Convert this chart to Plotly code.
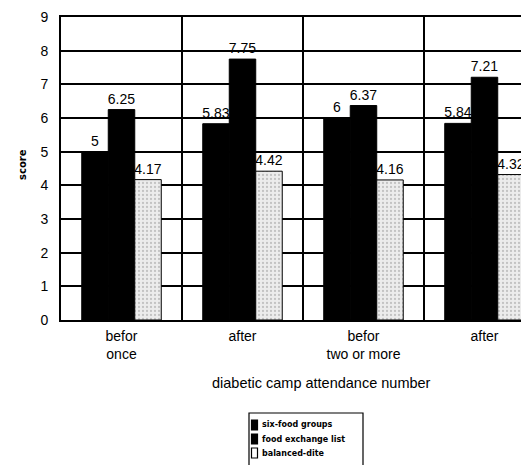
import plotly.graph_objects as go

categories = ["befor<br>once", "after", "befor<br>two or more", "after"]
six_food = [5, 5.83, 6, 5.84]
food_exchange = [6.25, 7.75, 6.37, 7.21]
balanced = [4.17, 4.42, 4.16, 4.32]
series_names = ["six-food groups", "food exchange list", "balanced-dite"]
y_ticks = list(range(0, 10))

W, H = 529, 465
L, R, T, B = 53, 0, 9, 153
PW, PH = W - L - R, H - T - B


def px(xp):
    return (xp - L) / PW


def py(yp):
    return (H - B - yp) / PH


x = list(range(len(categories)))
FONT = "Liberation Sans, Arial"
BALANCED_MARKER = dict(color="#e6e6e6", line=dict(color="black", width=1),
                       pattern=dict(shape=".", fgcolor="#9a9a9a", bgcolor="#ececec",
                                    size=4, solidity=0.25))

fig = go.Figure()
series = [six_food, food_exchange, balanced]
markers = [dict(color="black", line=dict(color="black", width=1)),
           dict(color="black", line=dict(color="black", width=1)),
           BALANCED_MARKER]
for name, vals, mk in zip(series_names, series, markers):
    fig.add_trace(go.Bar(x=x, y=vals, name=name, marker=mk,
                         text=[f"{v:g}" for v in vals], textposition="outside",
                         cliponaxis=False, showlegend=False,
                         textfont=dict(family=FONT, size=14, color="black")))

fig.update_layout(
    width=W, height=H,
    margin=dict(l=L, r=R, t=T, b=B),
    paper_bgcolor="white", plot_bgcolor="white",
    barmode="group", bargap=0.343, bargroupgap=0,
    font=dict(family=FONT, color="black"),
    uniformtext=dict(minsize=14, mode="show"),
    xaxis=dict(range=[-0.5, 3.434], tickvals=x, ticktext=categories,
               showgrid=False, zeroline=False, ticks="", automargin=False,
               ticklabelstandoff=2,
               tickfont=dict(family=FONT, size=14, color="black"),
               showline=True, linecolor="black", linewidth=2, mirror=True,
               minor=dict(tickvals=[0.5, 1.5, 2.5], showgrid=True,
                          gridcolor="black", gridwidth=2, ticks="")),
    yaxis=dict(range=[0, 9], tickvals=y_ticks, showgrid=True, gridcolor="black",
               gridwidth=1.6, zeroline=False, ticks="", automargin=False,
               ticklabelstandoff=8,
               tickfont=dict(family=FONT, size=14, color="black"),
               showline=True, linecolor="black", linewidth=2),
)

# axis titles
fig.add_annotation(text="diabetic camp attendance number", xref="paper", yref="paper",
                   x=px(313), y=py(375), xanchor="center", yanchor="middle",
                   showarrow=False, font=dict(family=FONT, size=14.5, color="black"))
fig.add_annotation(text="<b>score</b>", xref="paper", yref="paper",
                   x=px(14), y=py(157), xanchor="center", yanchor="middle",
                   textangle=-90, showarrow=False,
                   font=dict(family="DejaVu Sans", size=10, color="black"))

# legend box
fig.add_shape(type="rect", xref="paper", yref="paper",
              x0=px(241), x1=px(355), y0=py(468), y1=py(405),
              line=dict(color="black", width=1.2), fillcolor="white", layer="above")
legend_y = [417, 431, 445]
for i, (name, ly) in enumerate(zip(series_names, legend_y)):
    if i < 2:
        fc, lc = "black", "black"
    else:
        fc, lc = "white", "black"
    fig.add_shape(type="rect", xref="paper", yref="paper",
                  x0=px(243.5), x1=px(249.5), y0=py(ly + 5), y1=py(ly - 5),
                  line=dict(color=lc, width=1.2), fillcolor=fc, layer="above")
    fig.add_annotation(text=f"<b>{name}</b>", xref="paper", yref="paper",
                       x=px(252), y=py(ly), xanchor="left", yanchor="middle",
                       showarrow=False,
                       font=dict(family="DejaVu Sans", size=8, color="black"))

fig.write_html("out.html")
